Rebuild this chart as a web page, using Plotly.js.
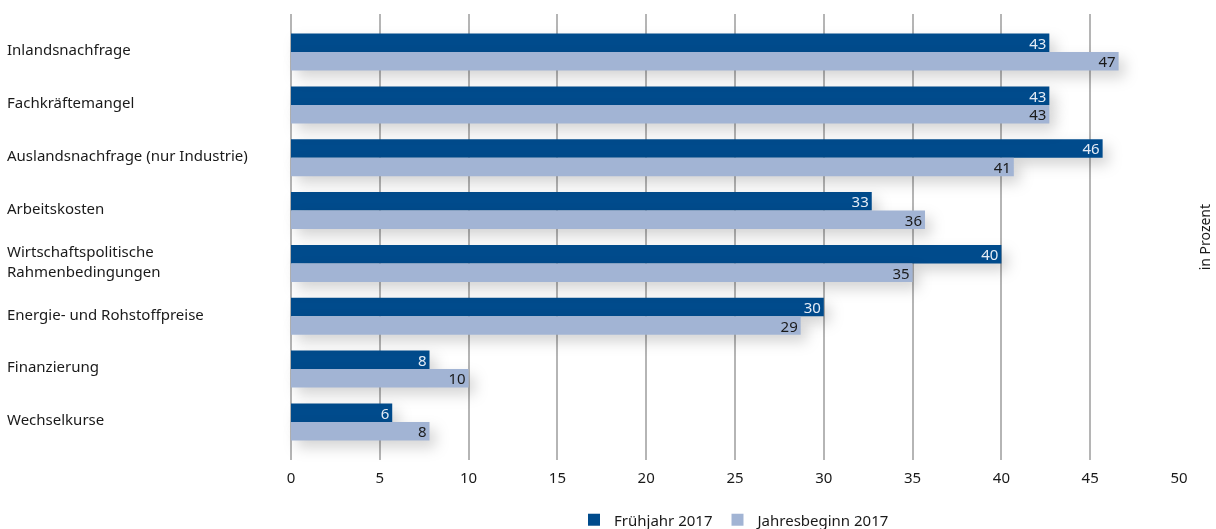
<!DOCTYPE html>
<html>
<head>
<meta charset="utf-8">
<script src="https://cdn.plot.ly/plotly-3.0.1.min.js"></script>
<style>
html,body{margin:0;padding:0;background:#fff;}
#chart{width:1216px;height:529px;}
#chart .barlayer .trace.bars .points{filter: drop-shadow(6px 7px 7px rgba(0,0,0,0.17));}
</style>
</head>
<body>
<div id="chart"></div>
<script>
const categories = [
  "Inlandsnachfrage",
  "Fachkräftemangel",
  "Auslandsnachfrage (nur Industrie)",
  "Arbeitskosten",
  "Wirtschaftspolitische<br>Rahmenbedingungen",
  "Energie- und Rohstoffpreise",
  "Finanzierung",
  "Wechselkurse"
];
const fruehjahr = [42.7, 42.7, 45.7, 32.7, 40.0, 30.0, 7.8, 5.7];
const fruehjahrLabels = ["43", "43", "46", "33", "40", "30", "8", "6"];
const jahresbeginn = [46.6, 42.7, 40.7, 35.7, 35.0, 28.7, 10.0, 7.8];
const jahresbeginnLabels = ["47", "43", "41", "36", "35", "29", "10", "8"];
const xTicks = [0, 5, 10, 15, 20, 25, 30, 35, 40, 45, 50];

const FONT = "Noto Sans, sans-serif";
const idx = categories.map((c, i) => i);

const traces = [
  {
    type: "bar", orientation: "h", name: "Frühjahr 2017",
    y: idx, x: fruehjahr, text: fruehjahrLabels,
    textposition: "inside", insidetextanchor: "end", textangle: 0, constraintext: "none",
    textfont: {family: FONT, size: 15, color: "#e4ecf6"},
    marker: {color: "#004b8c"}, hoverinfo: "skip", cliponaxis: false
  },
  {
    type: "bar", orientation: "h", name: "Jahresbeginn 2017",
    y: idx, x: jahresbeginn, text: jahresbeginnLabels,
    textposition: "inside", insidetextanchor: "end", textangle: 0, constraintext: "none",
    textfont: {family: FONT, size: 15, color: "#1a1a1a"},
    marker: {color: "#a2b4d4"}, hoverinfo: "skip", cliponaxis: false
  }
];

const annotations = categories.map((c, i) => ({
  xref: "paper", yref: "y", x: -0.3221, y: i - 0.05, xanchor: "left", yanchor: "middle",
  align: "left", text: c, showarrow: false,
  font: {family: FONT, size: 15, color: "#1a1a1a"}
}));
annotations.push({
  xref: "paper", yref: "paper", x: 1.0285, y: 0.5, xanchor: "center", yanchor: "middle",
  text: "in Prozent", textangle: -90, showarrow: false,
  font: {family: FONT, size: 14, color: "#1a1a1a"}
});

const layout = {
  width: 1216, height: 529,
  margin: {l: 291, r: 37, t: 14, b: 69, pad: 0, autoexpand: false},
  paper_bgcolor: "#ffffff", plot_bgcolor: "#ffffff",
  barmode: "group", bargap: 0.30, bargroupgap: 0,
  font: {family: FONT, size: 15, color: "#1a1a1a"},
  showlegend: true,
  legend: {orientation: "h", x: 0.5, xanchor: "center",
           y: -0.1345, yanchor: "middle",
           font: {family: FONT, size: 15, color: "#1a1a1a"}, traceorder: "normal",
           itemwidth: 30},
  xaxis: {
    range: [0, 50], tickvals: xTicks, ticktext: xTicks.map(String),
    showgrid: true, gridcolor: "#b5b5b5", gridwidth: 2,
    zeroline: true, zerolinecolor: "#b5b5b5", zerolinewidth: 2,
    showline: false, ticks: "outside", ticklen: 4, tickcolor: "rgba(0,0,0,0)",
    tickfont: {family: FONT, size: 15, color: "#1a1a1a"}, fixedrange: true
  },
  yaxis: {
    range: [7.72, -0.72], tickvals: idx, showticklabels: false,
    showgrid: false, zeroline: false, showline: false, ticks: "", fixedrange: true
  },
  annotations: annotations
};

Plotly.newPlot("chart", traces, layout, {displayModeBar: false, staticPlot: true});
</script>
</body>
</html>
